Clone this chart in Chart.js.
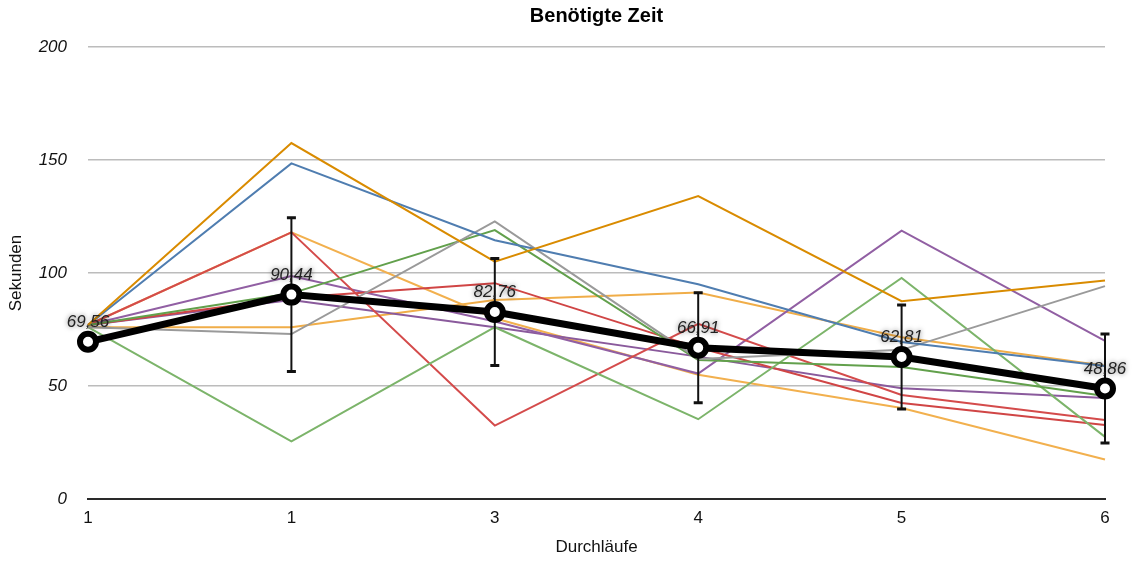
<!DOCTYPE html>
<html>
<head>
<meta charset="utf-8">
<title>Benötigte Zeit</title>
<script src="https://cdn.jsdelivr.net/npm/chart.js@4/dist/chart.umd.min.js"></script>
<style>
  html, body { margin: 0; padding: 0; background: #fff; }
  #wrap { width: 1133px; height: 562px; }
</style>
</head>
<body>
<div id="wrap"><canvas id="chart"></canvas></div>
<script>
// categories (the second "1" is as in the original)
const runs = ['1', '1', '3', '4', '5', '6'];
const yTicks = [0, 50, 100, 150, 200];

// mean over all participants + error (±)
const meanTimes = [69.56, 90.44, 82.76, 66.91, 62.81, 48.86];
const meanError = [0, 34, 23.7, 24.3, 23, 24.1];

// single participants
const darkOrange = [77, 157.5, 105, 134, 87.5, 96.7];
const blue = [77, 148.5, 114.5, 95, 69.5, 58.8];
const gray = [76, 73, 122.8, 62, 66, 94.2];
const greenA = [77, 91, 119, 61.5, 58.4, 45.6];
const greenB = [76, 25.5, 76, 35.3, 97.8, 27.5];
const redA = [77, 118, 32.5, 77.5, 46, 35];
const redB = [77, 89, 95.5, 67, 42.5, 32.7];
const purpleA = [77, 98.7, 78.5, 55.5, 118.7, 70];
const purpleB = [77, 88, 76, 63, 49, 44.7];
const lightOrangeA = [77, 118, 80, 55, 40.3, 17.5];
const lightOrangeB = [76, 76, 88, 91.4, 71.6, 59];

const FONT = '"Liberation Sans", Arial, Helvetica, sans-serif';

const thin = (data, color) => ({
  data,
  borderColor: color,
  borderWidth: 2,
  pointRadius: 0,
  tension: 0,
  fill: false,
  order: 1,
});

// error bars, drawn just before the mean line
const errorBars = {
  id: 'errorBars',
  beforeDatasetDraw(chart, args) {
    if (args.index !== 0) return;
    const { ctx, scales: { x, y } } = chart;
    ctx.save();
    ctx.strokeStyle = '#111';
    meanTimes.forEach((v, i) => {
      const e = meanError[i];
      if (!e) return;
      const px = x.getPixelForValue(i);
      const top = y.getPixelForValue(v + e);
      const bot = y.getPixelForValue(v - e);
      ctx.lineWidth = 2;
      ctx.beginPath();
      ctx.moveTo(px, top);
      ctx.lineTo(px, bot);
      ctx.stroke();
      ctx.lineWidth = 3;
      ctx.beginPath();
      ctx.moveTo(px - 4.5, top);
      ctx.lineTo(px + 4.5, top);
      ctx.moveTo(px - 4.5, bot);
      ctx.lineTo(px + 4.5, bot);
      ctx.stroke();
    });
    ctx.restore();
  },
};

// value labels above the mean points
const meanLabels = {
  id: 'meanLabels',
  afterDatasetsDraw(chart) {
    const { ctx } = chart;
    const meta = chart.getDatasetMeta(0);
    ctx.save();
    ctx.font = 'italic 17px ' + FONT;
    ctx.textAlign = 'center';
    ctx.textBaseline = 'alphabetic';
    ctx.fillStyle = '#222';
    ctx.shadowColor = 'rgba(0,0,0,0.55)';
    ctx.shadowBlur = 5;
    meta.data.forEach((pt, i) => {
      ctx.fillText(meanTimes[i].toFixed(2).replace('.', ','), pt.x, pt.y - 15);
    });
    ctx.restore();
  },
};

new Chart(document.getElementById('chart'), {
  type: 'line',
  data: {
    labels: runs,
    datasets: [
      {
        label: 'Mittelwert',
        data: meanTimes,
        borderColor: '#000',
        borderWidth: 7,
        pointRadius: 8,
        pointBorderWidth: 6,
        pointBackgroundColor: '#fff',
        pointBorderColor: '#000',
        tension: 0,
        order: 0,
      },
      thin(darkOrange, '#d98b00'),
      thin(blue, '#4f7db0'),
      thin(gray, '#9a9a9a'),
      thin(greenA, '#62a04c'),
      thin(greenB, '#7cb46a'),
      thin(redA, '#d44b4b'),
      thin(redB, '#d04545'),
      thin(purpleA, '#915fa3'),
      thin(purpleB, '#8a5a9c'),
      thin(lightOrangeA, '#f2b04e'),
      thin(lightOrangeB, '#f0ad48'),
    ],
  },
  options: {
    responsive: true,
    maintainAspectRatio: false,
    animation: false,
    layout: { padding: { top: 0, right: 28, bottom: 0, left: 0 } },
    plugins: {
      legend: { display: false },
      tooltip: { enabled: false },
      title: {
        display: true,
        text: 'Benötigte Zeit',
        fullSize: false,
        color: '#000',
        font: { family: FONT, size: 20, weight: 'bold' },
        padding: { top: 4, bottom: 19 },
      },
    },
    scales: {
      x: {
        offset: false,
        grid: { display: false, drawTicks: false },
        border: { display: true, color: '#2a2a2a', width: 2 },
        ticks: { color: '#111', padding: 9, font: { family: FONT, size: 17 }, maxRotation: 0 },
        title: {
          display: true,
          text: 'Durchläufe',
          color: '#111',
          font: { family: FONT, size: 17 },
          padding: { top: 0, bottom: 4 },
        },
        afterFit(scale) { scale.height = 63; },
      },
      y: {
        min: 0,
        max: 200,
        afterBuildTicks(scale) { scale.ticks = yTicks.map(v => ({ value: v })); },
        grid: { color: '#bcbcbc', lineWidth: 1.5, drawTicks: false },
        border: { display: false },
        ticks: { color: '#111', padding: 21, font: { family: FONT, size: 17, style: 'italic' } },
        title: {
          display: true,
          text: 'Sekunden',
          color: '#111',
          font: { family: FONT, size: 17 },
          padding: { top: 6, bottom: 0 },
        },
        afterFit(scale) { scale.width = 88; },
      },
    },
  },
  plugins: [errorBars, meanLabels],
});
</script>
</body>
</html>
